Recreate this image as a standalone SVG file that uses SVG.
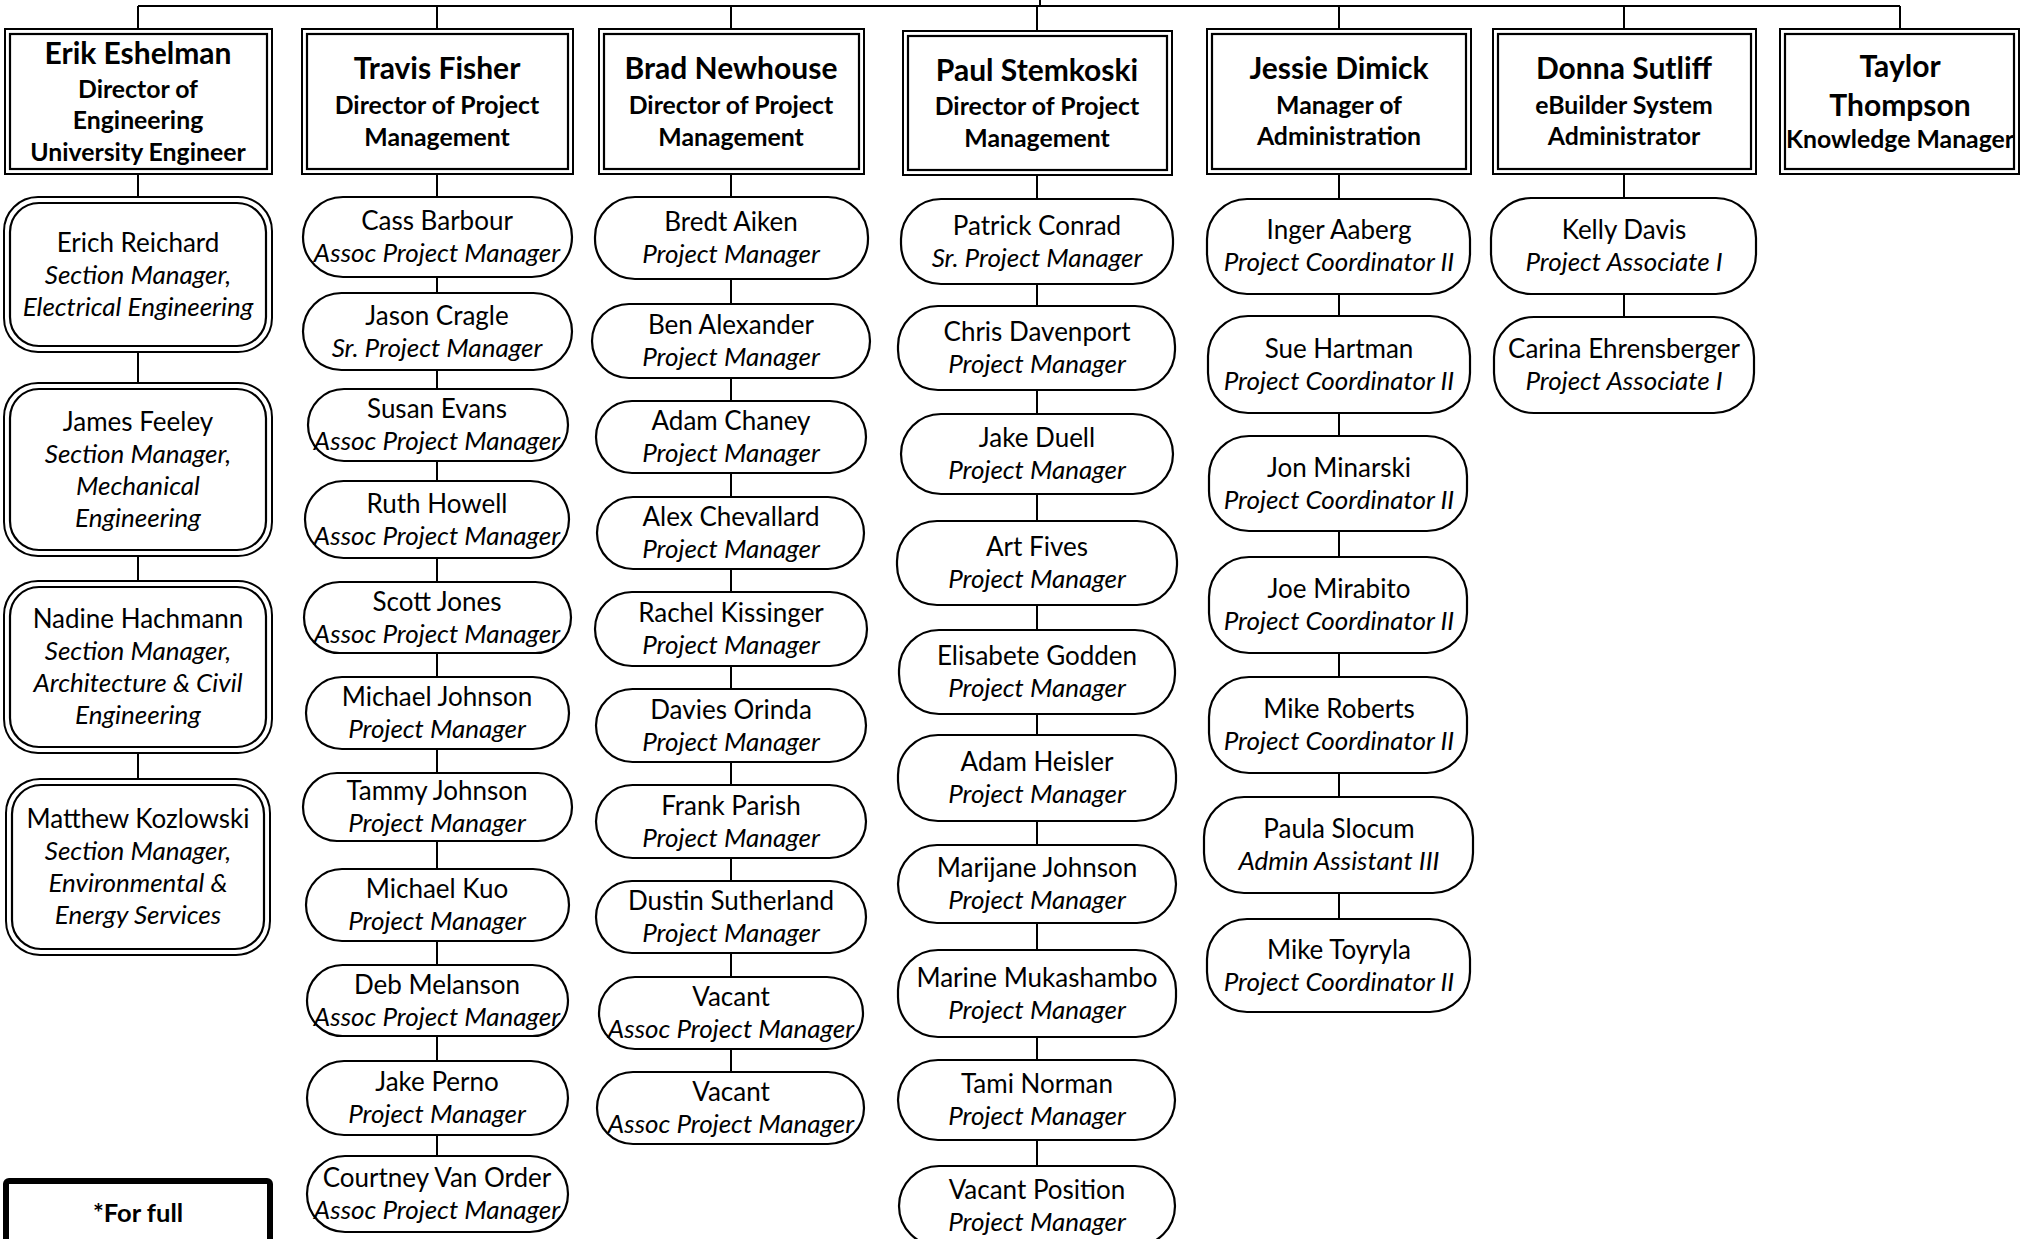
<svg xmlns="http://www.w3.org/2000/svg" width="2023" height="1239" viewBox="0 0 2023 1239">
<style>
.bg{fill:#fff}
.ob{fill:#fff;stroke:#000;stroke-width:2}
.ib{fill:none;stroke:#000;stroke-width:2.2}
.pill{fill:#fff;stroke:#000;stroke-width:2.2}
.c{stroke:#000;stroke-width:2;fill:none}
.note{fill:#fff;stroke:#000;stroke-width:6}
text{font-family:Lato,"Liberation Sans",sans-serif;text-anchor:middle;fill:#000}
.nm{font-size:26px}
.tt{font-size:26px;font-style:italic}
.hn{font-size:30px;font-weight:bold}
.hs{font-size:24.8px;font-weight:bold}
.ft{font-size:25.5px;font-weight:bold}
</style>
<rect class="bg" x="0" y="0" width="2023" height="1239"/>
<g id="connectors">
<path class="c" d="M138 6H1900M1040 0V6M138 6V29M437 6V29M731 6V29M1037 6V31M1339 6V29M1624 6V29M1900 6V29"/>
<path class="c" d="M138 174V197M138 352V383M138 556V581M138 753V779"/>
<path class="c" d="M437 174V197M437 277V293M437 370V389M437 461V481M437 558V582M437 653V677M437 749V773M437 841V869M437 941V965M437 1036V1061M437 1135V1156"/>
<path class="c" d="M731 174V197M731 279V304M731 378V401M731 473V497M731 569V592M731 666V689M731 762V785M731 858V881M731 953V977M731 1049V1072"/>
<path class="c" d="M1037 175V199M1037 284V306M1037 390V414M1037 494V521M1037 605V630M1037 714V735M1037 821V845M1037 923V950M1037 1037V1060M1037 1140V1166"/>
<path class="c" d="M1339 174V199M1339 294V316M1339 413V436M1339 531V557M1339 653V677M1339 773V797M1339 893V919"/>
<path class="c" d="M1624 174V198M1624 294V317"/>
</g>

<g id="erik-eshelman">
<rect class="ob" x="5" y="29" width="267" height="145"/><rect class="ib" x="10" y="34" width="257" height="135"/>
<text class="hn" x="138" y="64">Erik Eshelman</text>
<text class="hs" x="138" y="98">Director of</text>
<text class="hs" x="138" y="129">Engineering</text>
<text class="hs" x="138" y="161">University Engineer</text>
</g>
<g id="travis-fisher">
<rect class="ob" x="302" y="29" width="271" height="145"/><rect class="ib" x="307" y="34" width="261" height="135"/>
<text class="hn" x="437" y="79">Travis Fisher</text>
<text class="hs" x="437" y="114">Director of Project</text>
<text class="hs" x="437" y="146">Management</text>
</g>
<g id="brad-newhouse">
<rect class="ob" x="599" y="29" width="265" height="145"/><rect class="ib" x="604" y="34" width="255" height="135"/>
<text class="hn" x="731" y="79">Brad Newhouse</text>
<text class="hs" x="731" y="114">Director of Project</text>
<text class="hs" x="731" y="146">Management</text>
</g>
<g id="paul-stemkoski">
<rect class="ob" x="903" y="31" width="269" height="144"/><rect class="ib" x="908" y="36" width="259" height="134"/>
<text class="hn" x="1037" y="81">Paul Stemkoski</text>
<text class="hs" x="1037" y="115">Director of Project</text>
<text class="hs" x="1037" y="147">Management</text>
</g>
<g id="jessie-dimick">
<rect class="ob" x="1207" y="29" width="264" height="145"/><rect class="ib" x="1212" y="34" width="254" height="135"/>
<text class="hn" x="1339" y="79">Jessie Dimick</text>
<text class="hs" x="1339" y="114">Manager of</text>
<text class="hs" x="1339" y="145">Administration</text>
</g>
<g id="donna-sutliff">
<rect class="ob" x="1493" y="29" width="263" height="145"/><rect class="ib" x="1498" y="34" width="253" height="135"/>
<text class="hn" x="1624" y="79">Donna Sutliff</text>
<text class="hs" x="1624" y="114">eBuilder System</text>
<text class="hs" x="1624" y="145">Administrator</text>
</g>
<g id="taylor-thompson">
<rect class="ob" x="1780" y="29" width="239" height="145"/><rect class="ib" x="1785" y="34" width="229" height="135"/>
<text class="hn" x="1900" y="77">Taylor</text>
<text class="hn" x="1900" y="116">Thompson</text>
<text class="hs" x="1900" y="148">Knowledge Manager</text>
</g>

<g id="erich-reichard">
<rect class="ob" x="4" y="197" width="268" height="155" rx="34"/><rect class="ib" x="10" y="203" width="256" height="143" rx="29"/>
<text class="nm" x="138" y="251.5">Erich Reichard</text>
<text class="tt" x="138" y="283.5">Section Manager,</text>
<text class="tt" x="138" y="315.5">Electrical Engineering</text>
</g>
<g id="james-feeley">
<rect class="ob" x="4" y="383" width="268" height="173" rx="34"/><rect class="ib" x="10" y="389" width="256" height="161" rx="29"/>
<text class="nm" x="138" y="430.5">James Feeley</text>
<text class="tt" x="138" y="462.5">Section Manager,</text>
<text class="tt" x="138" y="494.5">Mechanical</text>
<text class="tt" x="138" y="526.5">Engineering</text>
</g>
<g id="nadine-hachmann">
<rect class="ob" x="4" y="581" width="268" height="172" rx="34"/><rect class="ib" x="10" y="587" width="256" height="160" rx="29"/>
<text class="nm" x="138" y="628">Nadine Hachmann</text>
<text class="tt" x="138" y="660">Section Manager,</text>
<text class="tt" x="138" y="692">Architecture &amp; Civil</text>
<text class="tt" x="138" y="724">Engineering</text>
</g>
<g id="matthew-kozlowski">
<rect class="ob" x="6" y="779" width="264" height="176" rx="34"/><rect class="ib" x="12" y="785" width="252" height="164" rx="29"/>
<text class="nm" x="138" y="828">Matthew Kozlowski</text>
<text class="tt" x="138" y="860">Section Manager,</text>
<text class="tt" x="138" y="892">Environmental &amp;</text>
<text class="tt" x="138" y="924">Energy Services</text>
</g>

<g id="cass-barbour"><rect class="pill" x="303" y="197" width="269" height="80" rx="40"/><text class="nm" x="437" y="230">Cass Barbour</text><text class="tt" x="437" y="262">Assoc Project Manager</text></g>
<g id="jason-cragle"><rect class="pill" x="303" y="293" width="269" height="77" rx="38.5"/><text class="nm" x="437" y="324.5">Jason Cragle</text><text class="tt" x="437" y="356.5">Sr. Project Manager</text></g>
<g id="susan-evans"><rect class="pill" x="308" y="389" width="260" height="72" rx="36"/><text class="nm" x="437" y="418">Susan Evans</text><text class="tt" x="437" y="450">Assoc Project Manager</text></g>
<g id="ruth-howell"><rect class="pill" x="305" y="481" width="264" height="77" rx="38.5"/><text class="nm" x="437" y="512.5">Ruth Howell</text><text class="tt" x="437" y="544.5">Assoc Project Manager</text></g>
<g id="scott-jones"><rect class="pill" x="304" y="582" width="267" height="71" rx="35.5"/><text class="nm" x="437" y="610.5">Scott Jones</text><text class="tt" x="437" y="642.5">Assoc Project Manager</text></g>
<g id="michael-johnson"><rect class="pill" x="306" y="677" width="263" height="72" rx="36"/><text class="nm" x="437" y="706">Michael Johnson</text><text class="tt" x="437" y="738">Project Manager</text></g>
<g id="tammy-johnson"><rect class="pill" x="303" y="773" width="269" height="68" rx="34"/><text class="nm" x="437" y="800">Tammy Johnson</text><text class="tt" x="437" y="832">Project Manager</text></g>
<g id="michael-kuo"><rect class="pill" x="306" y="869" width="263" height="72" rx="36"/><text class="nm" x="437" y="898">Michael Kuo</text><text class="tt" x="437" y="930">Project Manager</text></g>
<g id="deb-melanson"><rect class="pill" x="307" y="965" width="261" height="71" rx="35.5"/><text class="nm" x="437" y="993.5">Deb Melanson</text><text class="tt" x="437" y="1025.5">Assoc Project Manager</text></g>
<g id="jake-perno"><rect class="pill" x="307" y="1061" width="261" height="74" rx="37"/><text class="nm" x="437" y="1091">Jake Perno</text><text class="tt" x="437" y="1123">Project Manager</text></g>
<g id="courtney-van-order"><rect class="pill" x="307" y="1156" width="261" height="76" rx="38"/><text class="nm" x="437" y="1187">Courtney Van Order</text><text class="tt" x="437" y="1219">Assoc Project Manager</text></g>

<g id="bredt-aiken"><rect class="pill" x="595" y="197" width="273" height="82" rx="40"/><text class="nm" x="731" y="231">Bredt Aiken</text><text class="tt" x="731" y="263">Project Manager</text></g>
<g id="ben-alexander"><rect class="pill" x="592" y="304" width="278" height="74" rx="37"/><text class="nm" x="731" y="334">Ben Alexander</text><text class="tt" x="731" y="366">Project Manager</text></g>
<g id="adam-chaney"><rect class="pill" x="596" y="401" width="270" height="72" rx="36"/><text class="nm" x="731" y="430">Adam Chaney</text><text class="tt" x="731" y="462">Project Manager</text></g>
<g id="alex-chevallard"><rect class="pill" x="597" y="497" width="267" height="72" rx="36"/><text class="nm" x="731" y="526">Alex Chevallard</text><text class="tt" x="731" y="558">Project Manager</text></g>
<g id="rachel-kissinger"><rect class="pill" x="595" y="592" width="272" height="74" rx="37"/><text class="nm" x="731" y="622">Rachel Kissinger</text><text class="tt" x="731" y="654">Project Manager</text></g>
<g id="davies-orinda"><rect class="pill" x="596" y="689" width="270" height="73" rx="36.5"/><text class="nm" x="731" y="718.5">Davies Orinda</text><text class="tt" x="731" y="750.5">Project Manager</text></g>
<g id="frank-parish"><rect class="pill" x="596" y="785" width="270" height="73" rx="36.5"/><text class="nm" x="731" y="814.5">Frank Parish</text><text class="tt" x="731" y="846.5">Project Manager</text></g>
<g id="dustin-sutherland"><rect class="pill" x="596" y="881" width="270" height="72" rx="36"/><text class="nm" x="731" y="910">Dustin Sutherland</text><text class="tt" x="731" y="942">Project Manager</text></g>
<g id="vacant-1"><rect class="pill" x="599" y="977" width="264" height="72" rx="36"/><text class="nm" x="731" y="1006">Vacant</text><text class="tt" x="731" y="1038">Assoc Project Manager</text></g>
<g id="vacant-2"><rect class="pill" x="597" y="1072" width="267" height="72" rx="36"/><text class="nm" x="731" y="1101">Vacant</text><text class="tt" x="731" y="1133">Assoc Project Manager</text></g>

<g id="patrick-conrad"><rect class="pill" x="901" y="199" width="272" height="85" rx="40"/><text class="nm" x="1037" y="234.5">Patrick Conrad</text><text class="tt" x="1037" y="266.5">Sr. Project Manager</text></g>
<g id="chris-davenport"><rect class="pill" x="898" y="306" width="277" height="84" rx="40"/><text class="nm" x="1037" y="341">Chris Davenport</text><text class="tt" x="1037" y="373">Project Manager</text></g>
<g id="jake-duell"><rect class="pill" x="901" y="414" width="272" height="80" rx="40"/><text class="nm" x="1037" y="447">Jake Duell</text><text class="tt" x="1037" y="479">Project Manager</text></g>
<g id="art-fives"><rect class="pill" x="897" y="521" width="280" height="84" rx="40"/><text class="nm" x="1037" y="556">Art Fives</text><text class="tt" x="1037" y="588">Project Manager</text></g>
<g id="elisabete-godden"><rect class="pill" x="899" y="630" width="276" height="84" rx="40"/><text class="nm" x="1037" y="665">Elisabete Godden</text><text class="tt" x="1037" y="697">Project Manager</text></g>
<g id="adam-heisler"><rect class="pill" x="898" y="735" width="278" height="86" rx="40"/><text class="nm" x="1037" y="771">Adam Heisler</text><text class="tt" x="1037" y="803">Project Manager</text></g>
<g id="marijane-johnson"><rect class="pill" x="898" y="845" width="278" height="78" rx="39"/><text class="nm" x="1037" y="877">Marijane Johnson</text><text class="tt" x="1037" y="909">Project Manager</text></g>
<g id="marine-mukashambo"><rect class="pill" x="898" y="950" width="278" height="87" rx="40"/><text class="nm" x="1037" y="986.5">Marine Mukashambo</text><text class="tt" x="1037" y="1018.5">Project Manager</text></g>
<g id="tami-norman"><rect class="pill" x="898" y="1060" width="277" height="80" rx="40"/><text class="nm" x="1037" y="1093">Tami Norman</text><text class="tt" x="1037" y="1125">Project Manager</text></g>
<g id="vacant-position"><rect class="pill" x="899" y="1166" width="276" height="80" rx="40"/><text class="nm" x="1037" y="1199">Vacant Position</text><text class="tt" x="1037" y="1231">Project Manager</text></g>

<g id="inger-aaberg"><rect class="pill" x="1207" y="199" width="263" height="95" rx="40"/><text class="nm" x="1339" y="238.5">Inger Aaberg</text><text class="tt" x="1339" y="270.5">Project Coordinator II</text></g>
<g id="sue-hartman"><rect class="pill" x="1208" y="316" width="262" height="97" rx="40"/><text class="nm" x="1339" y="357.5">Sue Hartman</text><text class="tt" x="1339" y="389.5">Project Coordinator II</text></g>
<g id="jon-minarski"><rect class="pill" x="1209" y="436" width="258" height="95" rx="40"/><text class="nm" x="1339" y="476.5">Jon Minarski</text><text class="tt" x="1339" y="508.5">Project Coordinator II</text></g>
<g id="joe-mirabito"><rect class="pill" x="1209" y="557" width="258" height="96" rx="40"/><text class="nm" x="1339" y="598">Joe Mirabito</text><text class="tt" x="1339" y="630">Project Coordinator II</text></g>
<g id="mike-roberts"><rect class="pill" x="1209" y="677" width="258" height="96" rx="40"/><text class="nm" x="1339" y="718">Mike Roberts</text><text class="tt" x="1339" y="750">Project Coordinator II</text></g>
<g id="paula-slocum"><rect class="pill" x="1204" y="797" width="269" height="96" rx="40"/><text class="nm" x="1339" y="838">Paula Slocum</text><text class="tt" x="1339" y="870">Admin Assistant III</text></g>
<g id="mike-toyryla"><rect class="pill" x="1207" y="919" width="263" height="93" rx="40"/><text class="nm" x="1339" y="958.5">Mike Toyryla</text><text class="tt" x="1339" y="990.5">Project Coordinator II</text></g>

<g id="kelly-davis"><rect class="pill" x="1491" y="198" width="265" height="96" rx="40"/><text class="nm" x="1624" y="239">Kelly Davis</text><text class="tt" x="1624" y="271">Project Associate I</text></g>
<g id="carina-ehrensberger"><rect class="pill" x="1494" y="317" width="260" height="96" rx="40"/><text class="nm" x="1624" y="358">Carina Ehrensberger</text><text class="tt" x="1624" y="390">Project Associate I</text></g>

<g id="note">
<rect class="note" x="6" y="1181" width="264" height="100" rx="3"/>
<text class="ft" x="138" y="1222">*For full</text>
</g>
</svg>
